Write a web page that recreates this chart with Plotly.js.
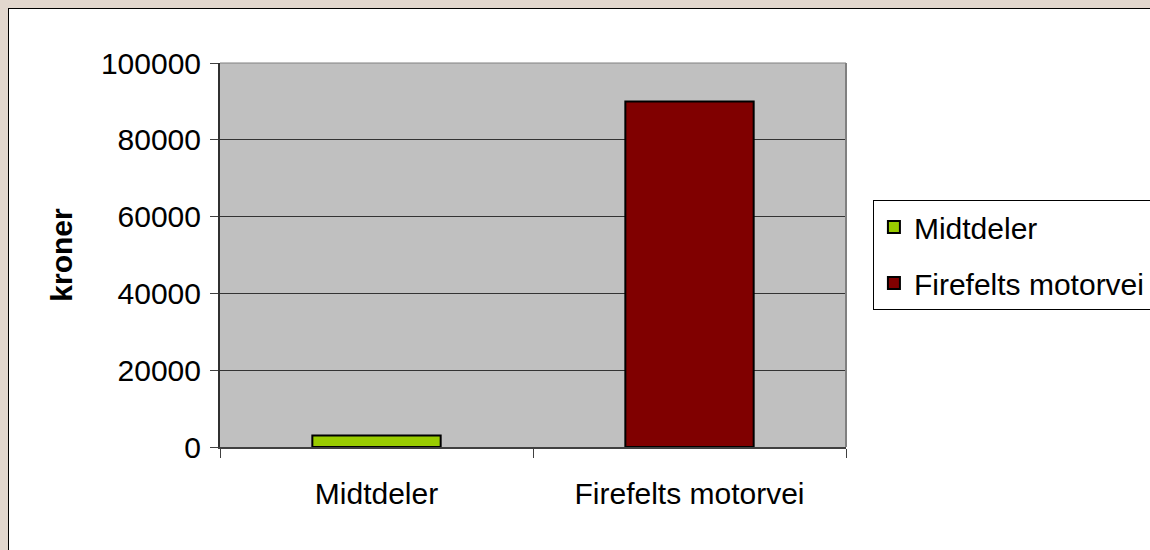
<!DOCTYPE html>
<html>
<head>
<meta charset="utf-8">
<script src="https://cdn.plot.ly/plotly-3.0.1.min.js"></script>
<style>
  html, body { margin: 0; padding: 0; background: #e2d7ce; width: 1150px; height: 550px; overflow: hidden; }
  #frame { position: absolute; left: 8px; top: 8px; width: 1142px; height: 542px; border-left: 1px solid #000; border-top: 1px solid #000; background: #fff; }
  #chart { width: 1142px; height: 542px; }
</style>
</head>
<body>
<div id="frame"><div id="chart"></div></div>
<script>
const categories = ["Midtdeler", "Firefelts motorvei"];
const values = [3000, 90000];
const colors = ["#99cc00", "#800000"];
const yTicks = [0, 20000, 40000, 60000, 80000, 100000];
const yTitle = "kroner";

const FONT = "Liberation Sans, Arial, sans-serif";
const FS = 30;

const traces = categories.map((c, i) => ({
  type: "bar",
  name: c,
  x: [c],
  y: [values[i]],
  width: 0.41,
  legendgroup: "g" + i,
  marker: { color: colors[i], line: { color: "#000", width: 2 } },
  hoverinfo: "x+y"
}));

const layout = {
  width: 1142, height: 542,
  margin: { l: 211, r: 305, t: 54, b: 104, autoexpand: false },
  paper_bgcolor: "#ffffff",
  plot_bgcolor: "#c0c0c0",
  barmode: "overlay",
  showlegend: true,
  font: { family: FONT, size: FS, color: "#000" },
  xaxis: {
    type: "category",
    categoryorder: "array",
    categoryarray: categories,
    tickson: "boundaries",
    ticks: "outside",
    ticklen: 9,
    tickcolor: "#404040",
    tickwidth: 1,
    ticklabelstandoff: 19,
    showline: true,
    linecolor: "#404040",
    linewidth: 2,
    mirror: false,
    showgrid: false,
    zeroline: false,
    tickfont: { family: FONT, size: FS, color: "#000" }
  },
  yaxis: {
    range: [0, 100000],
    tickvals: yTicks,
    ticktext: yTicks.map(String),
    ticks: "outside",
    ticklen: 8,
    tickcolor: "#404040",
    ticklabelstandoff: 3,
    showline: true,
    linecolor: "#303030",
    linewidth: 2,
    showgrid: true,
    gridcolor: "#333333",
    gridwidth: 1,
    zeroline: false,
    tickfont: { family: FONT, size: FS, color: "#000" },
    title: { text: "<b>" + yTitle + "</b>", font: { family: FONT, size: FS, color: "#000" }, standoff: 19 }
  },
  shapes: [
    { type: "line", xref: "paper", yref: "paper", x0: 1, x1: 1, y0: 0, y1: 1, line: { color: "#808080", width: 2 } },
    { type: "line", xref: "paper", yref: "paper", x0: 0, x1: 1, y0: 1, y1: 1, line: { color: "#808080", width: 1 } }
  ],
  legend: {
    x: 1.043, y: 0.643, xanchor: "left", yanchor: "top",
    bgcolor: "#ffffff",
    bordercolor: "#000",
    borderwidth: 1,
    tracegroupgap: 14,
    itemwidth: 30,
    font: { family: FONT, size: FS, color: "#000" }
  }
};

Plotly.newPlot("chart", traces, layout, { displayModeBar: false, staticPlot: true });
</script>
</body>
</html>
